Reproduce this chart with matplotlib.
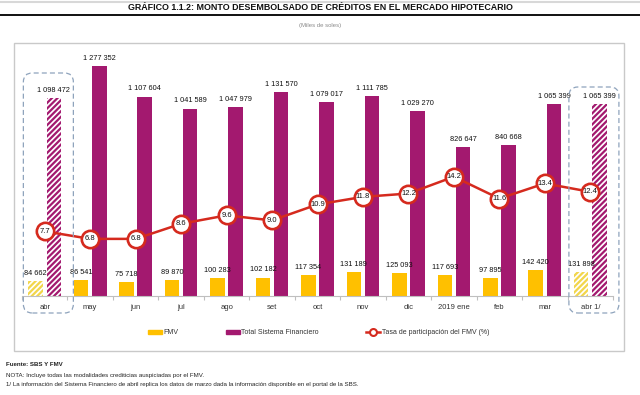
import matplotlib
matplotlib.use("Agg")
import matplotlib.pyplot as plt
from matplotlib.patches import FancyBboxPatch, Rectangle, Patch
from matplotlib.lines import Line2D
from matplotlib.transforms import IdentityTransform
import numpy as np

plt.rcParams['font.family'] = ['Liberation Sans', 'DejaVu Sans']
plt.rcParams['hatch.linewidth'] = 1.6

categories = ["abr", "may", "jun", "jul", "ago", "set", "oct", "nov", "dic",
              "2019 ene", "feb", "mar", "abr 1/"]
fmv = [84662, 86541, 75718, 89870, 100283, 102182, 117354, 131189, 125093,
       117693, 97895, 142420, 131898]
total_sf = [1098472, 1277352, 1107604, 1041589, 1047979, 1131570, 1079017,
            1111785, 1029270, 826647, 840668, 1065399, 1065399]
tasa = [7.7, 6.8, 6.8, 8.6, 9.6, 9.0, 10.9, 11.8, 12.2, 14.2, 11.6, 13.4, 12.4]
highlighted = [0, 12]

YELLOW = "#FFC000"
PURPLE = "#A3196F"
RED = "#D52A1E"
W, H = 640, 395

fig = plt.figure(figsize=(6.4, 3.95), dpi=100)

def fx(px):
    return px / W

def fy(py):
    return 1 - py / H

# Title
fig.text(0.5, fy(8), "GRÁFICO 1.1.2: MONTO DESEMBOLSADO DE CRÉDITOS EN EL MERCADO HIPOTECARIO",
         ha="center", va="center", fontsize=6.4, fontweight="bold", color="#111111")
fig.add_artist(Line2D([0, 1], [fy(14.5), fy(14.5)], color="#111111", lw=1.4))
fig.add_artist(Line2D([0, 1], [fy(1.5), fy(1.5)], color="#d8d8d8", lw=1.5))
fig.text(0.5, fy(25), "(Miles de soles)", ha="center", va="center", fontsize=4.3, color="#8a8a8a")

# outer box
fig.add_artist(Rectangle((fx(14), fy(351)), fx(624) - fx(14), fy(43) - fy(351),
                         transform=fig.transFigure, fill=False, ec="#c9c9c9", lw=1.0))

ax = fig.add_axes([fx(22), fy(296), fx(613) - fx(22), fy(44) - fy(296)])
x = np.arange(len(categories))
bw = 0.32
off = 0.2
for i in range(len(categories)):
    if i in highlighted:
        ax.bar(x[i] - off, fmv[i], bw, color="white", edgecolor="#F2D64B", hatch="//////", lw=0)
        ax.bar(x[i] + off, total_sf[i], bw, color="white", edgecolor=PURPLE, hatch="//////", lw=0)
    else:
        ax.bar(x[i] - off, fmv[i], bw, color=YELLOW, lw=0)
        ax.bar(x[i] + off, total_sf[i], bw, color=PURPLE, lw=0)

def fmt(v):
    return f"{v:,}".replace(",", " ")

for i in range(len(categories)):
    ax.annotate(fmt(fmv[i]), (x[i] - off, fmv[i]), xytext=(0, 3), textcoords="offset points",
                ha="center", va="bottom", fontsize=5.3, color="#111111")
    ax.annotate(fmt(total_sf[i]), (x[i] + off, total_sf[i]), xytext=(0, 3), textcoords="offset points",
                ha="center", va="bottom", fontsize=5.3, color="#111111")

ax.set_xlim(-0.5, len(categories) - 0.5)
ax.set_ylim(0, 1400000)
ax.set_yticks([])
for s in ["top", "right", "left"]:
    ax.spines[s].set_visible(False)
ax.spines["bottom"].set_color("#bfbfbf")
ax.spines["bottom"].set_linewidth(0.8)
ax.set_xticks(x)
ax.set_xticklabels(categories, fontsize=5.5, color="#333333")
ax.tick_params(axis="x", length=0, pad=6)
ax.set_xticks(np.arange(len(categories) + 1) - 0.5, minor=True)
ax.tick_params(axis="x", which="minor", length=3, color="#bfbfbf", width=0.8)
ax.patch.set_visible(False)

ax2 = ax.twinx()
ax2.set_ylim(0, 30)
ax2.set_yticks([])
for s in ax2.spines.values():
    s.set_visible(False)
ax2.plot(x, tasa, color=RED, lw=1.8, marker="o", ms=12.5, mfc="white", mec=RED, mew=1.9, zorder=3)
for i, t in enumerate(tasa):
    ax2.text(x[i], t, f"{t:.1f}", ha="center", va="center", fontsize=5.5, color="#111111", zorder=4)

# dashed rounded highlight boxes
fig.canvas.draw()
for i, (ytop_px) in zip(highlighted, [73, 87]):
    x0 = ax.transData.transform((x[i] - 0.47, 0))[0]
    x1 = ax.transData.transform((x[i] + 0.63, 0))[0]
    y0 = (1 - 313 / H) * fig.bbox.height
    y1 = (1 - ytop_px / H) * fig.bbox.height
    box = FancyBboxPatch((x0, y0), x1 - x0, y1 - y0, boxstyle="round,pad=0,rounding_size=9",
                         transform=IdentityTransform(), fill=False, ec="#8EA3BC", lw=0.9,
                         ls=(0, (4, 2.5)), zorder=5)
    fig.add_artist(box)

# legend
handles = [Patch(color=YELLOW, label="FMV"),
           Patch(color=PURPLE, label="Total Sistema Financiero"),
           Line2D([0], [0], color=RED, lw=1.8, marker="o", ms=5, mfc="white", mec=RED, mew=1.5,
                  label="Tasa de participación del FMV (%)")]
leg = fig.legend(handles=handles, loc="center left", bbox_to_anchor=(fx(148), fy(333)), ncol=3,
                 frameon=False, fontsize=5.0, handlelength=2.0, handleheight=0.6,
                 handletextpad=0.25, columnspacing=6.8, borderpad=0, borderaxespad=0)
for t in leg.get_texts():
    t.set_color("#333333")

# footnotes
fig.text(fx(6), fy(365), "Fuente: SBS Y FMV", fontsize=4.4, fontweight="bold", va="center", color="#222222")
fig.text(fx(6), fy(375), "NOTA: Incluye todas las modalidades crediticias auspiciadas por el FMV.",
         fontsize=4.4, va="center", color="#222222")
fig.text(fx(6), fy(384.5), "1/ La información del Sistema Financiero de abril replica los datos de marzo dada la información disponible en el portal de la SBS.",
         fontsize=4.4, va="center", color="#222222")

fig.savefig("out.png", dpi=100)
